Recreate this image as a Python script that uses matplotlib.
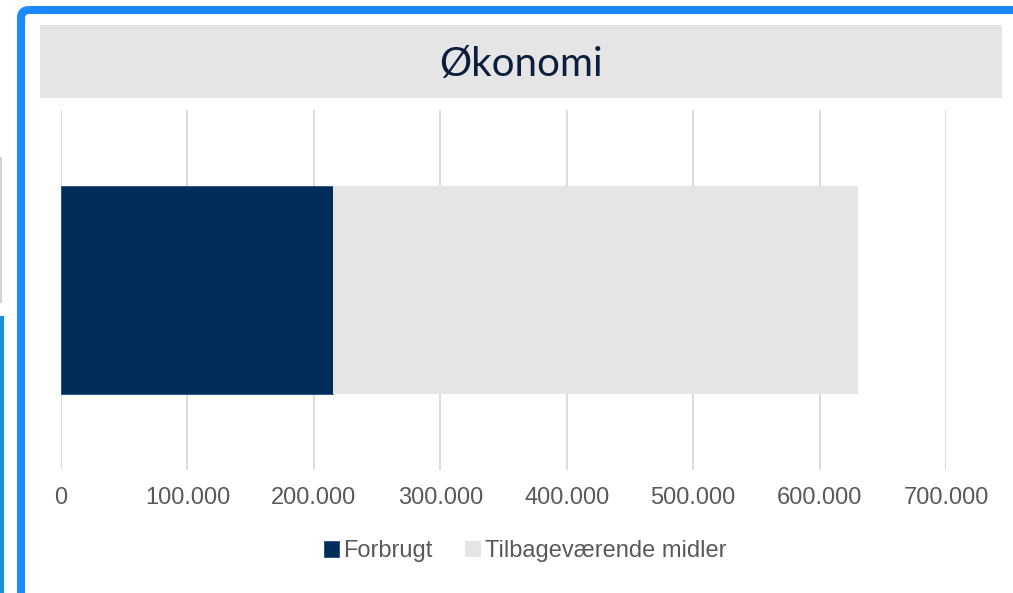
import numpy as np
import matplotlib.pyplot as plt
from matplotlib.patches import Rectangle, FancyBboxPatch
from matplotlib.ticker import FuncFormatter

# Data
category = ['Økonomi']
forbrugt = [215000]
tilbage = [415000]
series_names = ['Forbrugt', 'Tilbageværende midler']
x_ticks = [0, 100000, 200000, 300000, 400000, 500000, 600000, 700000]

navy = '#012d5b'
light = '#e5e5e5'

W, H = 1013, 593
fig = plt.figure(figsize=(W / 100, H / 100), dpi=100)
fig.patch.set_facecolor('white')

# background layer in pixel coordinates (frame, title band)
bg = fig.add_axes([0, 0, 1, 1], zorder=0)
bg.set_xlim(0, W)
bg.set_ylim(H, 0)
bg.axis('off')

# title band
bg.add_patch(Rectangle((40, 25), 962, 73, facecolor=light, edgecolor='none'))
bg.text(521, 76, 'Økonomi', ha='center', va='baseline', fontsize=29,
        family=['Lato', 'DejaVu Sans'], color='#0b1f3d')

# selection frame around the chart
bg.add_patch(FancyBboxPatch((21, 10), W + 60, H + 60,
                            boxstyle='round,pad=0,rounding_size=8',
                            facecolor='none', edgecolor='#1a88ff', linewidth=5.8))
# slivers of neighbouring objects on the left edge
bg.plot([1, 1], [158, 302], color='#d4d4d4', linewidth=1.5)
bg.plot([1.5, 1.5], [318, H], color='#1b8fd9', linewidth=3)

# main chart
ax = fig.add_axes([61 / W, 1 - 470 / H, (946 - 61) / W, 360 / H], zorder=1)
ax.set_facecolor('none')
y = np.arange(len(category))
b1 = ax.barh(y, forbrugt, height=1.156, color=navy, edgecolor='#1d4f86',
             linewidth=0.6, zorder=3, label=series_names[0])
b2 = ax.barh(y, tilbage, left=forbrugt, height=1.156, color=light,
             edgecolor='none', zorder=3, label=series_names[1])

ax.set_xlim(0, 700000)
ax.set_ylim(-1, 1)
ax.set_xticks(x_ticks)
ax.xaxis.set_major_formatter(FuncFormatter(lambda v, p: f'{v:,.0f}'.replace(',', '.')))
ax.set_yticks([])
ax.grid(axis='x', color='#d9d9d9', linewidth=1.3, zorder=0)
ax.tick_params(axis='x', length=0, pad=12, labelsize=17, labelcolor='#595959')
for lab in ax.get_xticklabels():
    lab.set_family(['Liberation Sans', 'DejaVu Sans'])
for s in ax.spines.values():
    s.set_visible(False)

leg = fig.legend(handles=[b1, b2], loc='center', ncol=2,
                 bbox_to_anchor=(525 / W, 1 - 551 / H), frameon=False,
                 prop={'family': ['Liberation Sans', 'DejaVu Sans'], 'size': 17},
                 handlelength=0.64, handleheight=0.64, handletextpad=0.18,
                 columnspacing=1.4, borderpad=0)
for t in leg.get_texts():
    t.set_color('#595959')

fig.savefig('out.png', dpi=100)
